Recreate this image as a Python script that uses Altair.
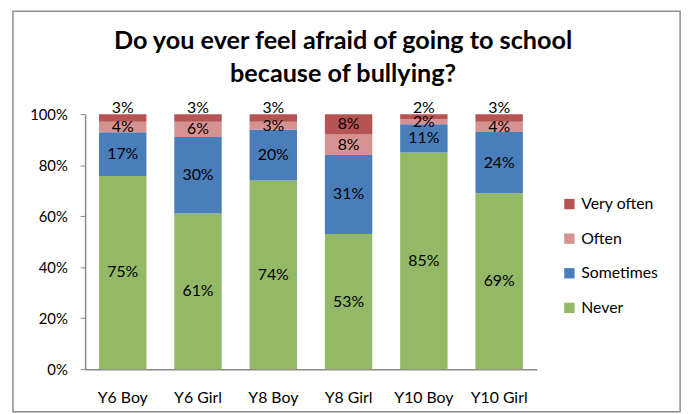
import altair as alt
import pandas as pd

groups = ["Y6 Boy", "Y6 Girl", "Y8 Boy", "Y8 Girl", "Y10 Boy", "Y10 Girl"]
responses = ["Never", "Sometimes", "Often", "Very often"]
never = [75, 61, 74, 53, 85, 69]
sometimes = [17, 30, 20, 31, 11, 24]
often = [4, 6, 3, 8, 2, 4]
very_often = [3, 3, 3, 8, 2, 3]
title_lines = ["Do you ever feel afraid of going to school", "because of bullying?"]
colors = ["#B65453", "#D69291", "#4A7EBB", "#93B866"]  # Very often, Often, Sometimes, Never

rows = []
for i, g in enumerate(groups):
    for r, vals in zip(responses, [never, sometimes, often, very_often]):
        rows.append({"group": g, "response": r, "value": vals[i], "rank": responses.index(r)})
df = pd.DataFrame(rows)

FONT = "Lato"
GRAY = "#898989"

base = alt.Chart(df).transform_stack(
    stack="value", groupby=["group"], as_=["y0", "y1"],
    sort=[alt.SortField("rank", order="ascending")], offset="normalize"
)

x_enc = alt.X("group:N", sort=groups, title=None,
              scale=alt.Scale(paddingInner=0.37, paddingOuter=0.185),
              axis=alt.Axis(labelAngle=0, labelFont=FONT, labelFontSize=16, labelColor="#000",
                            domainColor=GRAY, domainWidth=1.5, ticks=False, labelPadding=21))

bars = base.mark_bar().encode(
    x=x_enc,
    y=alt.Y("y0:Q", title=None, scale=alt.Scale(domain=[0, 1], nice=False),
            axis=alt.Axis(values=[0, 0.2, 0.4, 0.6, 0.8, 1.0], format=".0%", grid=False,
                          labelFont=FONT, labelFontSize=15, labelColor="#000",
                          domainColor=GRAY, domainWidth=1.5, tickColor=GRAY, tickSize=5,
                          labelPadding=13)),
    y2="y1:Q",
    color=alt.Color("response:N", sort=["Very often", "Often", "Sometimes", "Never"],
                    scale=alt.Scale(domain=["Very often", "Often", "Sometimes", "Never"], range=colors),
                    legend=alt.Legend(title=None, orient="none", legendX=482, legendY=83,
                                      symbolType="square", symbolSize=110, symbolStrokeWidth=0,
                                      labelFont=FONT, labelFontSize=16, labelColor="#000",
                                      rowPadding=19, labelOffset=4)),
    order=alt.Order("rank:Q"),
)

labels = base.transform_calculate(
    mid="datum.response == 'Very often' && (datum.y1 - datum.y0) < 0.05 ? 1.025 : (datum.y0 + datum.y1) / 2",
    lbl="datum.value + '%'"
).mark_text(font=FONT, fontSize=16, color="#000", baseline="middle").encode(
    x=alt.X("group:N", sort=groups),
    y=alt.Y("mid:Q"),
    text="lbl:N",
)

single = alt.Data(values=[{}])

border = alt.Chart(single).mark_rect(
    fill=None, stroke="#8C8C8C", strokeWidth=1.5
).encode(x=alt.value(-73), x2=alt.value(602), y=alt.value(-104), y2=alt.value(301))

title = alt.Chart(single).mark_text(
    font=FONT, fontSize=25.5, fontWeight="bold", color="#000",
    align="center", baseline="alphabetic", lineHeight=33
).encode(x=alt.value(261), y=alt.value(-66), text=alt.value(title_lines))

chart = alt.layer(border, title, bars, labels).properties(
    width=457, height=258,
    autosize=alt.AutoSizeParams(type="none"),
    padding={"left": 78, "top": 105, "right": 154, "bottom": 43},
).configure_view(stroke=None)

chart.save("out.html", embed_options={"renderer": "svg", "actions": False})
